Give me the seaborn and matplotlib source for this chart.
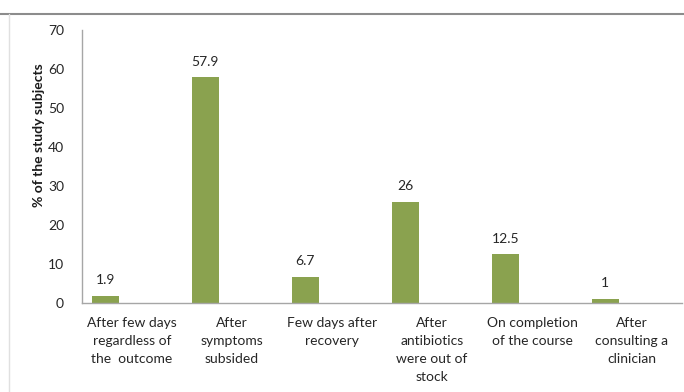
import matplotlib
matplotlib.use("Agg")
import matplotlib.pyplot as plt
from matplotlib.lines import Line2D
import seaborn as sns
import pandas as pd

# Reasons given for stopping the antibiotic course
categories = [
    "After few days\nregardless of\nthe  outcome",
    "After\nsymptoms\nsubsided",
    "Few days after\nrecovery",
    "After\nantibiotics\nwere out of\nstock",
    "On completion\nof the course",
    "After\nconsulting a\nclinician",
]
percentages = [1.9, 57.9, 6.7, 26, 12.5, 1]
y_ticks = [0, 10, 20, 30, 40, 50, 60, 70]

df = pd.DataFrame({"reason": categories, "pct": percentages, "series": "subjects"})

sns.set_theme(style="white")
plt.rcParams["font.family"] = ["Lato", "DejaVu Sans"]

fig = plt.figure(figsize=(6.84, 3.92), dpi=100)
ax = fig.add_axes([0.12, 0.227, 0.877, 0.696])

sns.barplot(
    data=df, x="reason", y="pct", hue="series",
    hue_order=["subjects", "_s2", "_s3"], dodge=True, width=0.8,
    palette=["#8aa24f", "#ffffff", "#ffffff"], order=categories,
    legend=False, ax=ax, saturation=1, edgecolor="none",
)

for cont in ax.containers:
    ax.bar_label(cont, fmt="%g", padding=7, fontsize=10, color="#262626")

ax.set_ylim(0, 70)
ax.set_yticks(y_ticks)
ax.set_xlim(-0.5, len(categories) - 0.5)
ax.tick_params(axis="y", length=0, labelsize=10, labelcolor="#262626", pad=13)
ax.tick_params(axis="x", length=0, labelsize=10, labelcolor="#262626", pad=10)
for t in ax.get_xticklabels():
    t.set_linespacing(1.6)
ax.set_xlabel("")
ax.set_ylabel("% of the study subjects", fontsize=10, fontweight="bold",
              color="#1a1a1a", va="center")
ax.yaxis.set_label_coords(-0.072, 0.615)

for side in ["top", "right"]:
    ax.spines[side].set_visible(False)
for side in ["left", "bottom"]:
    ax.spines[side].set_color("#a6a6a6")
    ax.spines[side].set_linewidth(1)

# Outer chart frame lines
fig.add_artist(Line2D([0, 1], [1 - 13.5 / 392] * 2, color="#8c8c8c", lw=1.5,
                      transform=fig.transFigure))
fig.add_artist(Line2D([8.5 / 684] * 2, [0, 1 - 13.5 / 392], color="#e0e0e0", lw=1,
                      transform=fig.transFigure))

fig.savefig("out.png", dpi=100)
